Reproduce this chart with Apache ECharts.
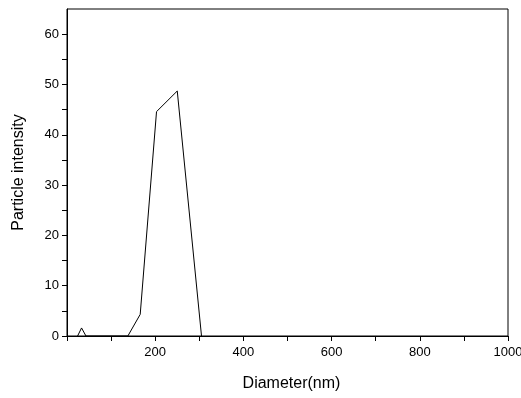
<!DOCTYPE html>
<html>
<head>
<meta charset="utf-8">
<script src="https://cdn.jsdelivr.net/npm/echarts@6/dist/echarts.min.js"></script>
<style>
  html, body { margin: 0; padding: 0; background: #fff; }
  #chart { width: 521px; height: 398px; }
</style>
</head>
<body>
<div id="chart"></div>
<script>
// size distribution
var diameter = [24, 33, 43, 138, 166, 203, 250, 305];
var intensity = [0, 1.6, 0, 0, 4.3, 44.6, 48.7, 0];

// y ticks: labelled majors and unlabelled minors (axis runs up to 65)
var yMajor = [0, 10, 20, 30, 40, 50, 60];
var yMinor = [5, 15, 25, 35, 45, 55];

var points = [];
for (var i = 0; i < diameter.length; i++) {
  points.push([diameter[i], intensity[i]]);
}

var font = 'Liberation Sans, Arial, sans-serif';
var chart = echarts.init(document.getElementById('chart'));

var tickStyle = { color: '#000' };

var option = {
  animation: false,
  backgroundColor: '#fff',
  grid: {
    left: 67, top: 9, right: 13, bottom: 62,
    outerBoundsMode: 'none',
    containLabel: false,
    show: true, borderColor: '#000', borderWidth: 1
  },
  xAxis: {
    type: 'value',
    min: 0, max: 1000, interval: 200,
    name: 'Diameter(nm)',
    nameLocation: 'middle',
    nameGap: 40,
    nameTextStyle: { fontFamily: font, fontSize: 16, color: '#000', padding: [0, 0, 0, 8] },
    axisLine: { lineStyle: { color: '#000', width: 1 } },
    axisTick: { inside: false, length: 5, lineStyle: tickStyle },
    minorTick: { show: true, splitNumber: 2, length: 5, lineStyle: tickStyle },
    axisLabel: {
      margin: 10, fontFamily: font, fontSize: 13, color: '#000',
      showMinLabel: false,
      formatter: function (v) { return v === 0 ? '' : v; }
    },
    splitLine: { show: false }
  },
  yAxis: [{
    type: 'value',
    min: 0, max: 65,
    name: 'Particle intensity',
    nameLocation: 'middle',
    nameGap: 40,
    nameTextStyle: { fontFamily: font, fontSize: 16, color: '#000' },
    axisLine: { show: true, lineStyle: { color: '#000', width: 1 } },
    axisTick: { inside: false, length: 5, lineStyle: tickStyle, customValues: yMajor },
    minorTick: { show: false },
    axisLabel: {
      margin: 8, fontFamily: font, fontSize: 13, color: '#000',
      customValues: yMajor
    },
    splitLine: { show: false }
  }, {
    type: 'value',
    position: 'left',
    min: 0, max: 65,
    axisLine: { show: false },
    axisTick: { inside: false, length: 5, lineStyle: tickStyle, customValues: yMinor },
    axisLabel: { show: false },
    splitLine: { show: false }
  }],
  series: [{
    type: 'line',
    data: points,
    symbol: 'none',
    lineStyle: { color: '#000', width: 1 }
  }]
};
chart.setOption(option);
</script>
</body>
</html>
